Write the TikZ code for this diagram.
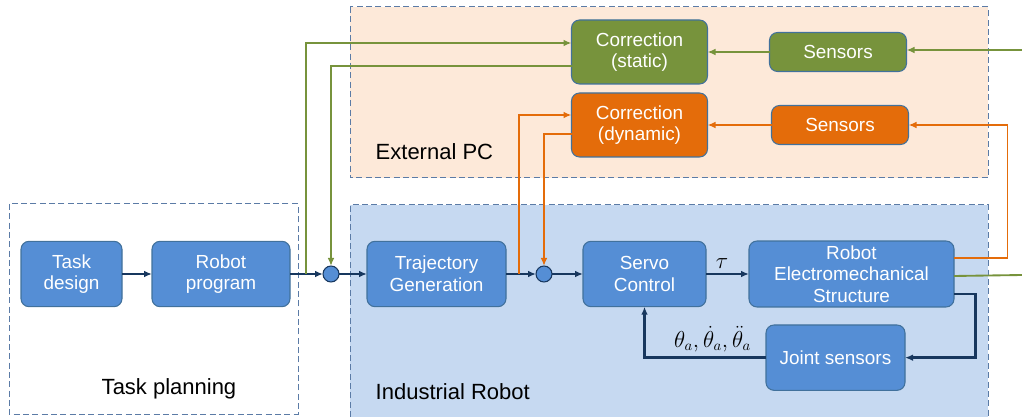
\documentclass[tikz,border=0pt]{standalone}
\usepackage{amsmath}
\usepackage{fontspec}
\setmainfont{Liberation Sans}
\usetikzlibrary{arrows.meta,positioning}
\definecolor{boxblue}{HTML}{558ED5}
\definecolor{boxedge}{HTML}{41719C}
\definecolor{corrgreen}{HTML}{77933C}
\definecolor{corrorange}{HTML}{E46C0A}
\definecolor{linkblue}{HTML}{17375E}
\definecolor{pcfill}{HTML}{FDE9D9}
\definecolor{robfill}{HTML}{C6D9F1}
\definecolor{frame}{HTML}{5B7BA6}
\newcommand{\boxfont}{\fontsize{14.2}{16.2}\selectfont}
\newcommand{\areafont}{\fontsize{16.5}{19}\selectfont}

\begin{document}
\begin{tikzpicture}[
  x=0.75pt,y=-0.75pt,
  node distance=22pt,
  blk/.style={draw=boxedge,line width=0.8pt,outer sep=0pt,rounded corners=6pt,align=center,fill=boxblue,text=white,minimum height=49pt,font=\boxfont},
  sens/.style={blk,minimum height=29.25pt,minimum width=102.75pt},
  sum/.style={circle,draw=linkblue,line width=0.8pt,outer sep=0pt,fill=boxblue,inner sep=0pt,minimum size=12pt},
  area/.style={draw=frame,line width=0.75pt,dash pattern=on 4.5pt off 2.5pt},
  lbl/.style={font=\areafont,text=black},
  arr/.style={-{Latex[length=6pt,width=5pt]},draw=linkblue,line width=1.8pt},
  grarr/.style={-{Latex[length=6pt,width=5pt]},draw=corrgreen,line width=1.4pt},
  orarr/.style={-{Latex[length=6pt,width=5pt]},draw=corrorange,line width=1.4pt}
]
\useasboundingbox (0,0) rectangle (1022,417);
% areas
\draw[area,fill=pcfill] (350,7) rectangle (988,178);
\fill[robfill] (350,205) rectangle (988,417);
\draw[area] (350,417) |- (988,205) -- (988,417);
\draw[area] (9,204) rectangle (298,414);
\node[lbl,anchor=west] (pclabel) at (371,152) {External PC};
\node[lbl] (planlabel) at (169,389) {Task planning};
\node[lbl,anchor=west] (roblabel) at (371,392) {Industrial Robot};

% main chain
\node[blk,minimum width=75.75pt] (design) at (71.5,274) {Task\\design};
\node[blk,minimum width=103.5pt,right=22.5pt of design] (program) {Robot\\program};
\node[sum,right=24.75pt of program] (sum1) {};
\node[blk,minimum width=104.25pt,right=21pt of sum1] (traj) {Trajectory\\Generation};
\node[sum,right=22.5pt of traj] (sum2) {};
\node[blk,minimum width=92.25pt,right=23.25pt of sum2] (servo) {Servo\\Control};
\node[blk,minimum width=153.75pt,right=32.25pt of servo] (robot) {Robot\\Electromechanical\\Structure};
\node[blk,minimum width=104.25pt,below=13.5pt of robot,xshift=-12pt] (joint) {Joint sensors};

% external PC
\node[blk,fill=corrgreen,minimum width=102pt,minimum height=48pt] (corrS) at (639.5,52) {Correction\\(static)};
\node[blk,fill=corrorange,minimum width=102pt,minimum height=48pt,below=6.75pt of corrS] (corrD) {Correction\\(dynamic)};
\node[sens,fill=corrgreen,right=46.5pt of corrS] (sensG) {Sensors};
\node[sens,fill=corrorange,right=48pt of corrD] (sensO) {Sensors};

\coordinate (tapA) at ([xshift=12pt]program.east);
\coordinate (tapB) at ([xshift=9.75pt]traj.east);
\coordinate (gIn) at (1022,50);
\coordinate (gOut) at (1022,275);

\draw[arr] (design) -- (program);
\draw[arr] (program) -- (sum1);
\draw[arr] (sum1) -- (traj);
\draw[arr] (traj) -- (sum2);
\draw[arr] (sum2) -- (servo);
\draw[arr] (servo) -- node[above,font=\fontsize{16}{18}\selectfont,xshift=-4pt] {$\tau$} (robot);
\draw[arr] ([yshift=-15pt]robot.east) -| ([xshift=53pt]joint.east) -- (joint.east);
\draw[arr] (joint.west) -| node[pos=0.22,above,font=\fontsize{16}{18}\selectfont] {$\theta_a,\dot{\theta}_a,\ddot{\theta}_a$} (servo.south);

% correction loops
\draw[grarr] (gIn) -- (gIn -| sensG.east);
\draw[grarr] (sensG) -- (corrS);
\draw[grarr] (tapA) |- ([yshift=6.75pt]corrS.west);
\draw[grarr] ([yshift=-10.5pt]corrS.west) -| (sum1.north);
\draw[corrgreen,line width=1.4pt] ([yshift=-1.5pt]robot.east) -- (gOut);
\draw[orarr] ([yshift=12pt]robot.east) -| ([xshift=74.25pt]sensO.east) -- (sensO.east);
\draw[orarr] (sensO) -- (corrD);
\draw[orarr] (tapB) |- ([yshift=7.5pt]corrD.west);
\draw[orarr] ([yshift=-7pt]corrD.west) -| (sum2.north);
\end{tikzpicture}
\end{document}
